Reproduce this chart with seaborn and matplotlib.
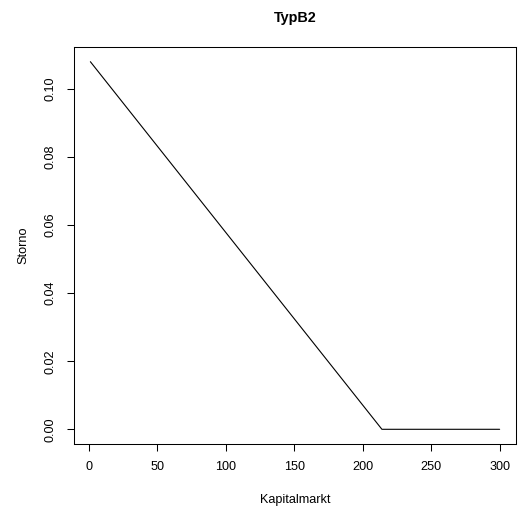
import matplotlib
matplotlib.use("Agg")
import matplotlib.pyplot as plt
import seaborn as sns
import pandas as pd

# Storno rate as a function of the capital market value (piecewise linear)
kapitalmarkt = [1, 214, 300]
storno = [0.108, 0.0, 0.0]

x_ticks = [0, 50, 100, 150, 200, 250, 300]
y_ticks = [0.00, 0.02, 0.04, 0.06, 0.08, 0.10]
y_tick_labels = ["0.00", "0.02", "0.04", "0.06", "0.08", "0.10"]

df = pd.DataFrame({"Kapitalmarkt": kapitalmarkt, "Storno": storno})

sns.set_style("ticks")
plt.rcParams["font.family"] = ["Liberation Sans", "DejaVu Sans"]
plt.rcParams["text.color"] = "black"
plt.rcParams["axes.labelcolor"] = "black"

W, H = 520, 515
fig = plt.figure(figsize=(W / 100, H / 100), dpi=100)
left, right, top, bottom = 74, 516, 47, 444
ax = fig.add_axes([left / W, 1 - bottom / H, (right - left) / W, (bottom - top) / H])

sns.lineplot(data=df, x="Kapitalmarkt", y="Storno", ax=ax, color="black",
             linewidth=0.8, estimator=None, sort=False)

# R-style 4% padding around the data range
xr = max(kapitalmarkt) - min(kapitalmarkt)
yr = max(storno) - min(storno)
ax.set_xlim(min(kapitalmarkt) - 0.04 * xr, max(kapitalmarkt) + 0.04 * xr)
ax.set_ylim(min(storno) - 0.04 * yr, max(storno) + 0.04 * yr)

ax.set_xticks(x_ticks)
ax.set_xticklabels([str(t) for t in x_ticks])
ax.set_yticks(y_ticks)
ax.set_yticklabels(y_tick_labels, rotation=90, va="center")

ax.tick_params(axis="both", direction="out", length=5, width=0.75,
               labelsize=9.1, colors="black")
ax.tick_params(axis="x", pad=7.5)
ax.tick_params(axis="y", pad=7.5)

for s in ax.spines.values():
    s.set_visible(True)
    s.set_linewidth(0.75)
    s.set_color("black")

ax.set_xlabel("Kapitalmarkt", fontsize=9.1, color="black")
ax.set_ylabel("Storno", fontsize=9.1, color="black")
ax.xaxis.set_label_coords(0.5, -0.126)
ax.yaxis.set_label_coords(-0.1, 0.5)

fig.text((left + right) / 2 / W, 1 - 18 / H, "TypB2", ha="center", va="center",
         fontsize=10.4, fontweight="bold", color="black")

fig.savefig("out.png", dpi=100, facecolor="white")
